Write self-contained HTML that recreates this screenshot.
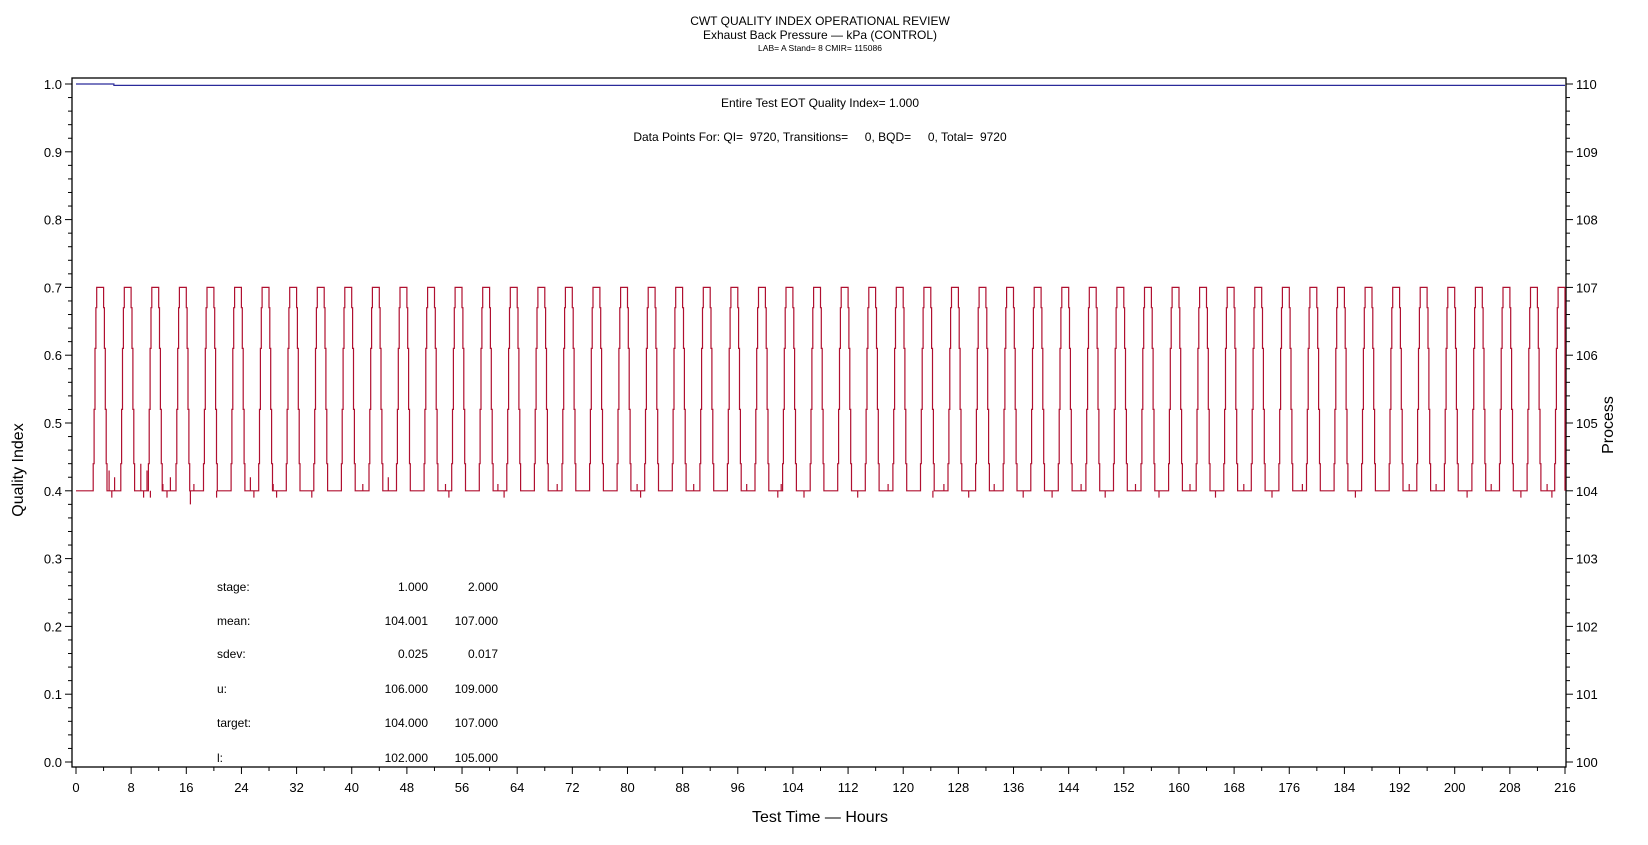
<!DOCTYPE html>
<html><head><meta charset="utf-8"><style>
html,body{margin:0;padding:0;background:#fff}
svg{display:block;font-family:"Liberation Sans",sans-serif}
</style></head><body>
<svg id="chart" width="1648" height="845" viewBox="0 0 1648 845" xmlns="http://www.w3.org/2000/svg">
<g text-anchor="middle" fill="#000">
<text x="820" y="25" font-size="12">CWT QUALITY INDEX OPERATIONAL REVIEW</text>
<text x="820" y="39" font-size="12">Exhaust Back Pressure — kPa (CONTROL)</text>
<text x="820" y="51" font-size="8.5">LAB= A Stand= 8 CMIR= 115086</text>
<text x="820" y="107" font-size="12">Entire Test EOT Quality Index=   1.000</text>
<text x="820" y="141" font-size="12" xml:space="preserve">Data Points For: QI=  9720, Transitions=     0, BQD=     0, Total=  9720</text>
<text x="820" y="822" font-size="16">Test Time — Hours</text>
<text transform="translate(23,470) rotate(-90)" font-size="16">Quality Index</text>
<text transform="translate(1613,425) rotate(-90)" font-size="16">Process</text>
</g>
<g id="axes"></g>
<g id="series"></g>
<g id="stats" font-size="12" fill="#000"></g>
</svg>
<script>
const xTicks=[0,8,16,24,32,40,48,56,64,72,80,88,96,104,112,120,128,136,144,152,160,168,176,184,192,200,208,216];
const yTicks=[0.0,0.1,0.2,0.3,0.4,0.5,0.6,0.7,0.8,0.9,1.0];
const y2Ticks=[100,101,102,103,104,105,106,107,108,109,110];
const cycleStarts=[3,7,11,15,19,23,27,31,35,39,43,47,51,55,59,63,67,71,75,79,83,87,91,95,99,103,107,111,115,119,123,127,131,135,139,143,147,151,155,159,163,167,171,175,179,183,187,191,195,199,203,207,211,215];
const highLevel=0.7, lowLevel=0.4;
const rampUpOffsets=[-0.5,-0.38,-0.25,-0.12,0];
const rampUpValues=[0.44,0.52,0.61,0.67,0.7];
const rampDownOffsets=[1,1.12,1.25,1.38,1.5];
const rampDownValues=[0.67,0.61,0.52,0.44,0.4];
const spikeHours=[4.8,5.2,5.6,9.4,9.8,10.3,10.8,12.6,13.2,13.7,16.6,17.1,20.4,25.3,25.8,28.6,29.1,34.2,41.6,45.3,53.6,54.1,61.2,62.1,69.8,81.4,81.9,89.6,97.3,101.8,102.3,105.6,113.4,117.8,124.3,125.9,129.5,133.2,137.4,141.6,145.8,149.3,153.7,157.1,161.6,165.3,169.4,173.5,177.9,185.6,193.4,197.3,201.8,205.3,209.6,213.4,214.1];
const spikeValues=[0.43,0.39,0.42,0.44,0.39,0.43,0.39,0.41,0.39,0.42,0.38,0.41,0.39,0.42,0.39,0.41,0.39,0.39,0.41,0.42,0.41,0.39,0.41,0.39,0.41,0.41,0.39,0.41,0.41,0.39,0.41,0.39,0.39,0.41,0.39,0.41,0.39,0.41,0.39,0.39,0.41,0.39,0.41,0.39,0.41,0.39,0.41,0.39,0.41,0.39,0.41,0.41,0.39,0.41,0.39,0.41,0.39];
const qiHours=[0,5.5,216];
const qiValues=[1.0,0.998,0.998];
const statLabels=["stage:","mean:","sdev:","u:","target:","l:"];
const statCol1=["1.000","104.001","0.025","106.000","104.000","102.000"];
const statCol2=["2.000","107.000","0.017","109.000","107.000","105.000"];

const NS="http://www.w3.org/2000/svg";
const L=72,R=1566,T=78,B=767;
const xs=h=>76+h*(1565-76)/216;
const ys=v=>762-v*(762-84);
const ys2=p=>ys((p-100)/10);
function mk(tag,attrs,parent){const e=document.createElementNS(NS,tag);for(const k in attrs)e.setAttribute(k,attrs[k]);parent.appendChild(e);return e;}
const axes=document.getElementById('axes');
const frame=mk('rect',{x:L,y:T,width:R-L,height:B-T,fill:'none',stroke:'#000','stroke-width':1.3},axes);


xTicks.forEach(h=>{
  const t=mk('line',{x1:xs(h),x2:xs(h),y1:B,y2:B+7,stroke:'#000'},axes);
  
  
  if(h<216){const m=mk('line',{x1:xs(h+4),x2:xs(h+4),y1:B,y2:B+4,stroke:'#000'},axes);
  
  }
  const lb=mk('text',{x:xs(h),y:B+25,'font-size':13,'text-anchor':'middle'},axes);
  lb.textContent=h;
  
  
});
yTicks.forEach((v,i)=>{
  const t=mk('line',{x1:L-7,x2:L,y1:ys(v),y2:ys(v),stroke:'#000'},axes);
  
  
  const lb=mk('text',{x:L-10,y:ys(v)+5,'font-size':13,'text-anchor':'end'},axes);
  lb.textContent=v.toFixed(1);
  
  
  if(i<yTicks.length-1)for(let k=1;k<5;k++){const yy=ys(v+k*0.02);
    const m=mk('line',{x1:L-4,x2:L,y1:yy,y2:yy,stroke:'#000'},axes);
    
    
    const m2=mk('line',{x1:R,x2:R+4,y1:yy,y2:yy,stroke:'#000'},axes);
    
    }
});
y2Ticks.forEach(p=>{
  const t=mk('line',{x1:R,x2:R+7,y1:ys2(p),y2:ys2(p),stroke:'#000'},axes);
  
  
  const lb=mk('text',{x:R+10,y:ys2(p)+5,'font-size':13},axes);
  lb.textContent=p;
  
  
});
const series=document.getElementById('series');
// process trace
let pts=[[0,lowLevel]];
cycleStarts.forEach(s=>{
  rampUpOffsets.forEach((o,i)=>{const h=s+o;pts.push([h,pts[pts.length-1][1]]);pts.push([h,rampUpValues[i]]);});
  rampDownOffsets.forEach((o,i)=>{const h=Math.min(s+o,216);pts.push([h,pts[pts.length-1][1]]);pts.push([h,rampDownValues[i]]);});
});
pts=pts.filter(p=>p[0]<=216);
let d=pts.map((p,i)=>(i?'L':'M')+xs(p[0]).toFixed(1)+' '+ys(p[1]).toFixed(1)).join(' ');
spikeHours.forEach((h,i)=>{d+=' M'+xs(h).toFixed(1)+' '+ys(lowLevel).toFixed(1)+' L'+xs(h).toFixed(1)+' '+ys(spikeValues[i]).toFixed(1);});
const proc=mk('path',{d:d,fill:'none',stroke:'#b01030','stroke-width':1.2},series);


let qd='';
qiHours.forEach((h,i)=>{if(i){qd+=' L'+xs(h).toFixed(1)+' '+ys(qiValues[i-1]).toFixed(1);}qd+=(i?' L':'M')+xs(h).toFixed(1)+' '+ys(qiValues[i]).toFixed(1);});
const qi=mk('path',{d:qd,fill:'none',stroke:'#2a2a9a','stroke-width':1.2},series);


const stats=document.getElementById('stats');
const rowY=[591,625,658,693,727,762];
statLabels.forEach((s,i)=>{
  const a=mk('text',{x:217,y:rowY[i]},stats);a.textContent=s;
  
  
  const b=mk('text',{x:428,y:rowY[i],'text-anchor':'end'},stats);b.textContent=statCol1[i];
  
  
  const c=mk('text',{x:498,y:rowY[i],'text-anchor':'end'},stats);c.textContent=statCol2[i];
  
  
});
</script>
</body></html>
